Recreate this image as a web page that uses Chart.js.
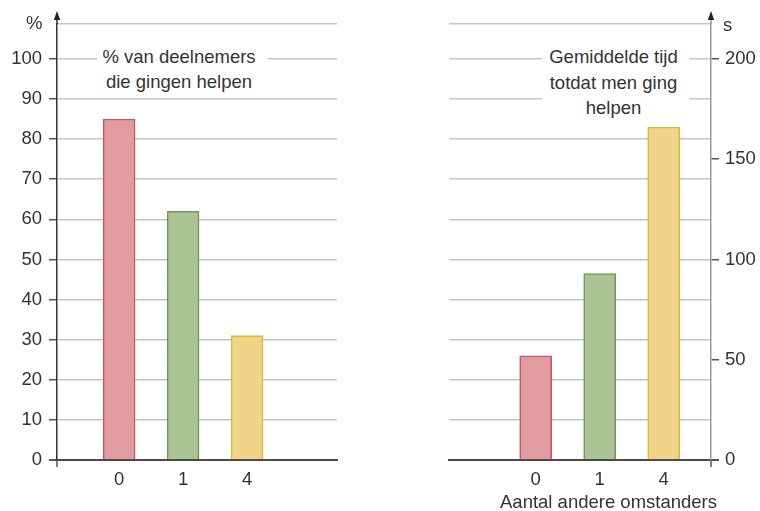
<!DOCTYPE html>
<html>
<head>
<meta charset="utf-8">
<script src="https://cdn.jsdelivr.net/npm/chart.js@4/dist/chart.umd.min.js"></script>
<style>
  html, body { margin: 0; padding: 0; background: #fff; }
  #wrap { position: relative; width: 760px; height: 511px; overflow: hidden;
          font-family: 'Liberation Sans', Arial, sans-serif; color: #333; }
  canvas { position: absolute; top: 0; }
  #leftCanvas { left: 0; }
  #rightCanvas { left: 390px; }
  .txt { position: absolute; font-size: 18.5px; line-height: 22px; white-space: nowrap; }
  .note { position: absolute; background: #fff; font-size: 18.5px; line-height: 25.6px;
          text-align: center; white-space: nowrap; }
</style>
</head>
<body>
<div id="wrap">
  <canvas id="leftCanvas" width="390" height="511"></canvas>
  <canvas id="rightCanvas" width="370" height="511"></canvas>
  <div class="txt" style="left:26px; top:12px;">%</div>
  <div class="txt" style="left:723px; top:14px;">s</div>
  <div class="note" style="left:97px; top:43.5px; width:164px; padding-right:7px;">% van deelnemers<br>die gingen helpen</div>
  <div class="note" style="left:542px; top:44px; width:143px; padding-right:4px;">Gemiddelde tijd<br>totdat men ging<br>helpen</div>
  <div class="txt" style="left:500px; top:491px;">Aantal andere omstanders</div>
</div>
<script>
// Number of other bystanders present
const bystanders = ['0', '1', '4'];
// Share of participants who went to help (%)
const helpedPercent = [85, 62, 31];
// Mean time until help was offered (s)
const helpTimeSeconds = [52, 93, 166];
// Labelled ticks on each value axis
const percentTicks = [0, 10, 20, 30, 40, 50, 60, 70, 80, 90, 100];
const secondTicks = [0, 50, 100, 150, 200];
// Horizontal rules behind the right-hand bars
const secondRules = [0, 20, 40, 60, 80, 100, 120, 140, 160, 180, 200];

const FONT = "'Liberation Sans', Arial, sans-serif";
const TEXT = '#333';
const fills = ['#e19d9d', '#abc495', '#efd48a'];
const edges = ['#c9566a', '#6f9a55', '#e2bb2c'];
const GRID = '#c6c6c6';
const BASE = '#4a4a4a';

// Bars sit at slots 1, 2, 3 of a linear x scale
const slotOf = i => i + 1;

function barData(values) {
  return values.map((v, i) => ({ x: slotOf(i), y: v }));
}

// Axis line running past the plot area, capped with an arrow head
const axisArrow = {
  id: 'axisArrow',
  afterDraw(chart, args, opts) {
    const { ctx, chartArea } = chart;
    const x = opts.side === 'right' ? chartArea.right : chartArea.left;
    ctx.save();
    ctx.lineWidth = 1.5;
    ctx.strokeStyle = opts.color;
    ctx.beginPath();
    ctx.moveTo(x, chartArea.top);
    ctx.lineTo(x, 18);
    ctx.stroke();
    ctx.strokeStyle = opts.footColor;
    ctx.beginPath();
    ctx.moveTo(x, chartArea.bottom);
    ctx.lineTo(x, chartArea.bottom + 7);
    ctx.stroke();
    ctx.fillStyle = opts.arrowColor;
    ctx.beginPath();
    ctx.moveTo(x, 11);
    ctx.lineTo(x - 3.2, 20);
    ctx.lineTo(x + 3.2, 20);
    ctx.closePath();
    ctx.fill();
    ctx.restore();
  }
};

function xScale(min, max) {
  return {
    type: 'linear',
    offset: false,
    min, max,
    afterBuildTicks: s => { s.ticks = bystanders.map((_, i) => ({ value: slotOf(i) })); },
    afterFit: s => { s.height = 51; },
    grid: { display: false, drawTicks: false },
    border: { display: true, color: BASE, width: 2 },
    ticks: {
      autoSkip: false,
      maxRotation: 0,
      padding: 9,
      color: TEXT,
      font: { family: FONT, size: 18.5 },
      callback: v => bystanders[v - 1]
    }
  };
}

const common = {
  responsive: false,
  animation: false,
  plugins: { legend: { display: false }, tooltip: { enabled: false } }
};

// Left panel: percentage who helped
const pctTop = 108.7;
new Chart(document.getElementById('leftCanvas'), {
  type: 'bar',
  data: {
    datasets: [{
      data: barData(helpedPercent),
      backgroundColor: fills,
      borderColor: edges,
      borderWidth: 1.6,
      barThickness: 32
    }]
  },
  options: {
    ...common,
    layout: { padding: { top: 24, right: 53, left: 0, bottom: 0 } },
    scales: {
      x: xScale(0.03, 4.406),
      y: {
        min: 0, max: pctTop,
        afterBuildTicks: s => { s.ticks = percentTicks.concat([pctTop]).map(v => ({ value: v })); },
        afterFit: s => { s.width = 57; },
        border: { display: true, color: '#333', width: 1.5 },
        grid: {
          color: c => c.tick.value === 0 ? BASE : GRID,
          lineWidth: c => c.tick.value === 0 ? 2 : 1.5,
          tickColor: c => percentTicks.includes(c.tick.value) ? '#555' : 'rgba(0,0,0,0)',
          tickLength: 8
        },
        ticks: {
          autoSkip: false,
          padding: 7,
          color: TEXT,
          font: { family: FONT, size: 18.5 },
          callback: v => percentTicks.includes(v) ? String(v) : ''
        }
      }
    },
    plugins: {
      ...common.plugins,
      axisArrow: { side: 'left', color: '#333', footColor: '#555', arrowColor: '#222' }
    }
  },
  plugins: [axisArrow]
});

// Right panel: mean time until help
const secTop = 217.4;
const secAll = secondRules.concat(secondTicks.filter(v => !secondRules.includes(v)), [secTop]).sort((a, b) => a - b);
new Chart(document.getElementById('rightCanvas'), {
  type: 'bar',
  data: {
    datasets: [{
      data: barData(helpTimeSeconds),
      backgroundColor: fills,
      borderColor: edges,
      borderWidth: 1.6,
      barThickness: 32
    }]
  },
  options: {
    ...common,
    layout: { padding: { top: 24, right: 0, left: 59, bottom: 0 } },
    scales: {
      x: xScale(-0.355, 3.739),
      y: {
        position: 'right',
        min: 0, max: secTop,
        afterBuildTicks: s => { s.ticks = secAll.map(v => ({ value: v })); },
        afterFit: s => { s.width = 49; },
        border: { display: true, color: '#9a9a9a', width: 1.5 },
        grid: {
          color: c => c.tick.value === 0 ? BASE
            : (secondRules.includes(c.tick.value) || c.tick.value === secTop) ? GRID : 'rgba(0,0,0,0)',
          lineWidth: c => c.tick.value === 0 ? 2 : 1.5,
          tickColor: c => secondTicks.includes(c.tick.value) ? '#555' : 'rgba(0,0,0,0)',
          tickLength: 8
        },
        ticks: {
          autoSkip: false,
          padding: 6,
          color: TEXT,
          font: { family: FONT, size: 18.5 },
          callback: v => secondTicks.includes(v) ? String(v) : ''
        }
      }
    },
    plugins: {
      ...common.plugins,
      axisArrow: { side: 'right', color: '#9a9a9a', footColor: '#555', arrowColor: '#222' }
    }
  },
  plugins: [axisArrow]
});
</script>
</body>
</html>
